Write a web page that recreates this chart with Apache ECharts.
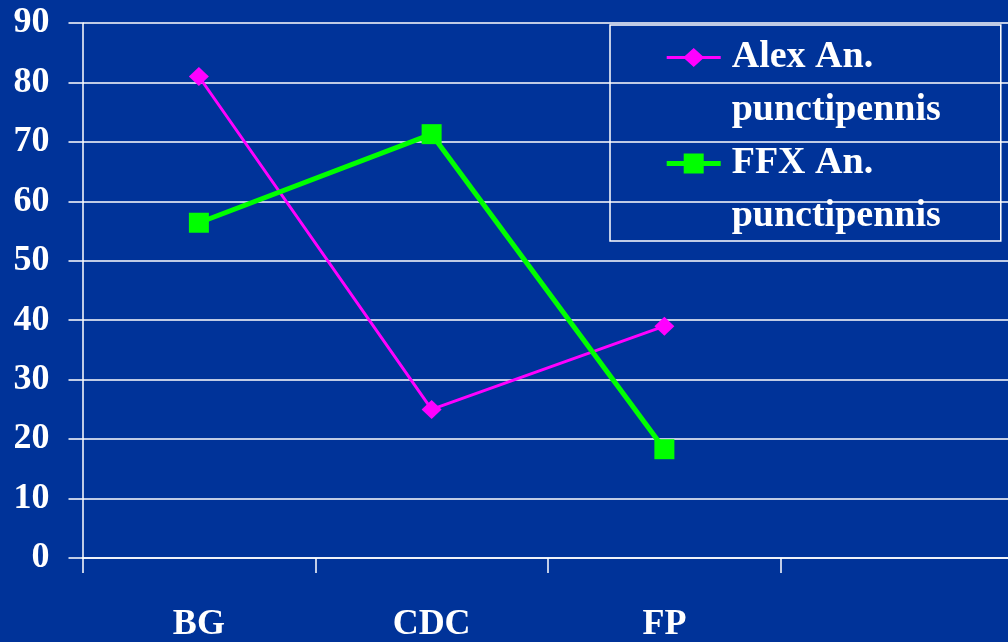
<!DOCTYPE html>
<html>
<head>
<meta charset="utf-8">
<script src="https://cdn.jsdelivr.net/npm/echarts@6/dist/echarts.min.js"></script>
<style>
html,body{margin:0;padding:0;background:#003399;}
#chart{width:1008px;height:642px;}
</style>
</head>
<body>
<div id="chart"></div>
<script>
var categories = ['BG', 'CDC', 'FP', ''];
var seriesNames = ['Alex An. punctipennis', 'FFX An. punctipennis'];
var alexValues = [81, 25, 39];
var ffxValues = [56.4, 71.3, 18.3];
var yTicks = [0, 10, 20, 30, 40, 50, 60, 70, 80, 90];

var FONT = '"Liberation Serif", "DejaVu Serif", serif';
// legend icons: line + marker on the first text line (box 60 x 106)
var CORNERS = 'M0,0 L0.01,0 L0,0.01 Z M60,106 L60,105.99 L59.99,106 Z ';
var alexIcon = 'path://' + CORNERS + 'M0,25 L54,25 L54,28 L0,28 Z M27,17 L37.5,26.5 L27,36 L16.5,26.5 Z';
var ffxIcon = 'path://' + CORNERS + 'M0,24 L54,24 L54,29 L0,29 Z M17,16.5 L37,16.5 L37,36.5 L17,36.5 Z';

var chart = echarts.init(document.getElementById('chart'), null, {renderer: 'canvas'});
chart.setOption({
  animation: false,
  backgroundColor: '#003399',
  grid: {left: 82.5, width: 931, top: 23, bottom: 84, containLabel: false, outerBoundsMode: 'none'},
  legend: {
    orient: 'vertical',
    left: 610,
    top: 25,
    padding: [6, 60, -2, 56.7],
    itemGap: 0,
    itemWidth: 60,
    itemHeight: 106,
    borderColor: '#ffffff',
    borderWidth: 1.5,
    itemStyle: {borderWidth: 0},
    data: [
      {name: seriesNames[0], icon: alexIcon},
      {name: seriesNames[1], icon: ffxIcon}
    ],
    formatter: function (n) { return n.replace(' punctipennis', '\npunctipennis'); },
    textStyle: {color: '#ffffff', fontFamily: FONT, fontWeight: 'bold', fontSize: 38, lineHeight: 53}
  },
  xAxis: {
    type: 'category',
    data: categories,
    boundaryGap: true,
    axisLine: {lineStyle: {color: '#ffffff', width: 1.5}},
    axisTick: {show: true, length: 15, lineStyle: {color: '#ffffff', width: 1.5}},
    axisLabel: {color: '#ffffff', fontFamily: FONT, fontWeight: 'bold', fontSize: 36, margin: 49},
    splitLine: {show: false}
  },
  yAxis: {
    type: 'value',
    min: yTicks[0],
    max: yTicks[yTicks.length - 1],
    interval: 10,
    axisLine: {show: true, lineStyle: {color: '#ffffff', width: 1.5}},
    axisTick: {show: true, length: 14, lineStyle: {color: '#ffffff', width: 1.5}},
    axisLabel: {color: '#ffffff', fontFamily: FONT, fontWeight: 'bold', fontSize: 36, margin: 33},
    splitLine: {show: true, lineStyle: {color: '#ffffff', width: 1.5}}
  },
  series: [
    {
      name: seriesNames[0],
      type: 'line',
      data: alexValues,
      symbol: 'diamond',
      symbolSize: [20, 19],
      itemStyle: {color: '#ff00ff', borderWidth: 0},
      lineStyle: {color: '#ff00ff', width: 3}
    },
    {
      name: seriesNames[1],
      type: 'line',
      data: ffxValues,
      symbol: 'rect',
      symbolSize: 20,
      itemStyle: {color: '#00ff00', borderWidth: 0},
      lineStyle: {color: '#00ff00', width: 5}
    }
  ]
});
</script>
</body>
</html>
